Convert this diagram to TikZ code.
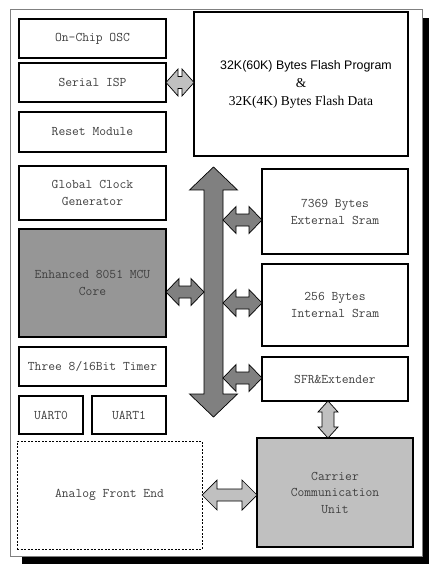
\documentclass[tikz,border=0pt]{standalone}
\usepackage{fontspec}
\setmainfont{Liberation Serif}
\setsansfont{Liberation Sans}
\usepackage{tikz}
\usetikzlibrary{positioning, calc}

\definecolor{coregray}{HTML}{969696}
\definecolor{busgray}{HTML}{808080}
\definecolor{linkgray}{HTML}{C0C0C0}
\definecolor{textgray}{HTML}{404040}

% fat double arrows: style, from, to, shaft half, head half, head length
\newcommand{\hlink}[6]{%
  \draw[#1] let \p1=(#2), \p2=(#3) in
    (\x1,\y1) -- (\x1+#6pt,\y1+#5pt) -- (\x1+#6pt,\y1+#4pt) -- (\x2-#6pt,\y1+#4pt)
    -- (\x2-#6pt,\y1+#5pt) -- (\x2,\y1) -- (\x2-#6pt,\y1-#5pt) -- (\x2-#6pt,\y1-#4pt)
    -- (\x1+#6pt,\y1-#4pt) -- (\x1+#6pt,\y1-#5pt) -- cycle;}
\newcommand{\vlink}[6]{%
  \draw[#1] let \p1=(#2), \p2=(#3) in
    (\x1,\y1) -- (\x1+#5pt,\y1-#6pt) -- (\x1+#4pt,\y1-#6pt) -- (\x1+#4pt,\y2+#6pt)
    -- (\x1+#5pt,\y2+#6pt) -- (\x1,\y2) -- (\x1-#5pt,\y2+#6pt) -- (\x1-#4pt,\y2+#6pt)
    -- (\x1-#4pt,\y1-#6pt) -- (\x1-#5pt,\y1-#6pt) -- cycle;}

\begin{document}
\begin{tikzpicture}[x=1pt, y=-1pt, node distance=10pt,
    block/.style={draw, line width=1.5pt, inner sep=0pt, outer sep=0pt, minimum width=147pt,
      align=center, text=textgray, font=\ttfamily\fontsize{13.2}{17}\selectfont},
    link/.style={draw=black, line width=0.7pt}]
    \useasboundingbox (0,0) rectangle (434,569);
    % shadow and frame
    \fill (22,18) rectangle (429,564);
    \draw[gray, fill=white, line width=0.6pt] (10,9) rectangle (422,556);

    % left column
    \node[block, minimum height=39pt, anchor=north west] (osc) at (19,19) {On-Chip OSC};
    \node[block, minimum height=39pt, below=5pt of osc] (isp) {Serial ISP};
    \node[block, minimum height=40pt, below=10pt of isp] (reset) {Reset Module};
    \node[block, minimum height=54pt, below=14pt of reset] (clock) {Global Clock\\Generator};
    \node[block, minimum height=108pt, below=9pt of clock, fill=coregray] (core) {Enhanced 8051 MCU\\Core};
    \node[block, minimum height=39pt, below=10pt of core] (timer) {Three 8/16Bit Timer};
    \node[block, minimum width=64pt, minimum height=38pt, below=10pt of timer.south west, anchor=north west] (uart0) {UART0};
    \node[block, minimum width=74pt, minimum height=38pt, right=9pt of uart0] (uart1) {UART1};
    \node[block, line width=0.8pt, dash pattern=on 2pt off 1.5pt, minimum width=185pt, minimum height=108pt, anchor=north west] (afe) at (17,441) {Analog Front End};

    % right column
    \node[block, text=black, minimum width=214pt, minimum height=144pt, anchor=north west, font=\rmfamily\fontsize{13.5}{18}\selectfont] (flash) at (194,12)
        {\hspace*{10pt}{\sffamily\fontsize{12.4}{18}\selectfont 32K(60K) Bytes Flash Program}\\ \&\\ 32K(4K) Bytes Flash Data};
    \node[block, minimum width=146pt, minimum height=85pt, anchor=north west] (ext) at (262,169) {7369 Bytes\\External Sram};
    \node[block, minimum width=146pt, minimum height=82pt, below=10pt of ext] (int) {256 Bytes\\Internal Sram};
    \node[block, minimum width=146pt, minimum height=44pt, below=11pt of int] (sfr) {SFR\&Extender};
    \node[block, minimum width=156pt, minimum height=109pt, fill=linkgray, anchor=north west, font=\ttfamily\fontsize{13.2}{16.5}\selectfont] (ccu) at (257,438) {Carrier\\Communication\\Unit};

    % bus
    \coordinate (bustop) at (213.5,167);
    \coordinate (busbot) at (213.5,417);
    \coordinate (busL) at (204,0);
    \coordinate (busR) at (223,0);
    \vlink{link, fill=busgray}{bustop}{busbot}{9.5}{24}{23}

    % links
    \coordinate (corelink) at ([yshift=-9pt]core.east);
    \coordinate (extlink) at ([yshift=-8.5pt]ext.west);
    \coordinate (intlink) at ([yshift=2pt]int.west);
    \coordinate (sfrlink) at ([yshift=1pt]sfr.west);
    \coordinate (cculink) at ([xshift=-7pt]sfr.south);
    \hlink{link, fill=linkgray}{isp.east}{flash.west}{6}{13.5}{12}
    \hlink{link, fill=busgray}{corelink}{busL |- corelink}{6}{13.5}{13}
    \hlink{link, fill=busgray}{busR |- extlink}{extlink}{6}{13.5}{13}
    \hlink{link, fill=busgray}{busR |- intlink}{intlink}{6}{13.5}{13}
    \hlink{link, fill=busgray}{busR |- sfrlink}{sfrlink}{6}{13.5}{13}
    \vlink{link, fill=linkgray}{cculink}{cculink |- ccu.north}{6}{10}{11}
    \hlink{link, fill=linkgray}{afe.east}{ccu.west |- afe.east}{6}{15}{15}
\end{tikzpicture}
\end{document}
